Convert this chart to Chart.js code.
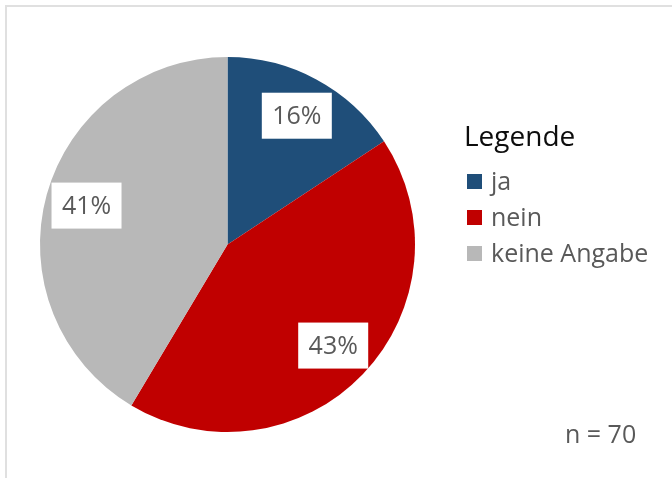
<!DOCTYPE html>
<html>
<head>
<meta charset="utf-8">
<script src="https://cdn.jsdelivr.net/npm/chart.js@4"></script>
<style>
    html, body { margin: 0; padding: 0; background: #fff; }
    #frame {
        position: absolute; left: 5px; top: 5px; width: 667px; height: 473px;
        border-top: 2px solid #e0e0e0; border-left: 2px solid #e0e0e0;
    }
    #wrap { position: absolute; left: 0; top: 0; width: 672px; height: 478px; }
</style>
</head>
<body>
<div id="frame"></div>
<div id="wrap"><canvas id="pie-chart" width="672" height="478"></canvas></div>
<script>
// antworten (n = 70)
const categories = ["ja", "nein", "keine Angabe"];
const counts = [11, 30, 29];
const colors = ["#1F4E79", "#C00000", "#B8B8B8"];
const legendTitle = "Legende";
const note = "n = 70";

const FONT = "'Open Sans', sans-serif";

// weisse Kaestchen mit Prozentwerten
const percentLabels = {
    id: 'percentLabels',
    afterDatasetsDraw(chart) {
        const ctx = chart.ctx;
        const meta = chart.getDatasetMeta(0);
        const total = counts.reduce((a, b) => a + b, 0);
        ctx.save();
        meta.data.forEach((arc, i) => {
            const p = arc.getProps(['x', 'y', 'startAngle', 'endAngle', 'outerRadius'], true);
            const mid = (p.startAngle + p.endAngle) / 2;
            const r = p.outerRadius * 0.78;
            const cx = p.x + Math.cos(mid) * r;
            const cy = p.y + Math.sin(mid) * r;
            ctx.fillStyle = "#fff";
            ctx.fillRect(cx - 35, cy - 23, 70, 46);
            ctx.fillStyle = "#595959";
            ctx.font = "25px " + FONT;
            ctx.textAlign = "center";
            ctx.textBaseline = "middle";
            ctx.fillText(Math.round(counts[i] / total * 100) + "%", cx, cy + 1);
        });
        ctx.restore();
    }
};

// Legende rechts + Stichprobengroesse
const sideLegend = {
    id: 'sideLegend',
    afterDraw(chart) {
        const ctx = chart.ctx;
        ctx.save();
        ctx.textBaseline = "alphabetic";
        ctx.textAlign = "left";
        ctx.fillStyle = "#0d0d0d";
        ctx.font = "28px " + FONT;
        ctx.fillText(legendTitle, 464, 146);
        ctx.font = "25px " + FONT;
        chart.data.labels.forEach((lab, i) => {
            const y = 181 + i * 36;
            ctx.fillStyle = chart.data.datasets[0].backgroundColor[i];
            ctx.fillRect(467, y - 7, 15, 15);
            ctx.fillStyle = "#595959";
            ctx.fillText(lab, 491, y + 9);
        });
        ctx.fillText(note, 565, 443);
        ctx.restore();
    }
};

new Chart(document.getElementById("pie-chart"), {
    type: 'pie',
    data: {
        labels: categories,
        datasets: [{
            data: counts,
            backgroundColor: colors,
            borderWidth: 0
        }]
    },
    options: {
        responsive: false,
        animation: false,
        layout: { padding: { left: 40, top: 57, bottom: 46, right: 257 } },
        plugins: {
            legend: { display: false },
            tooltip: { enabled: false }
        }
    },
    plugins: [percentLabels, sideLegend]
});
</script>
</body>
</html>
